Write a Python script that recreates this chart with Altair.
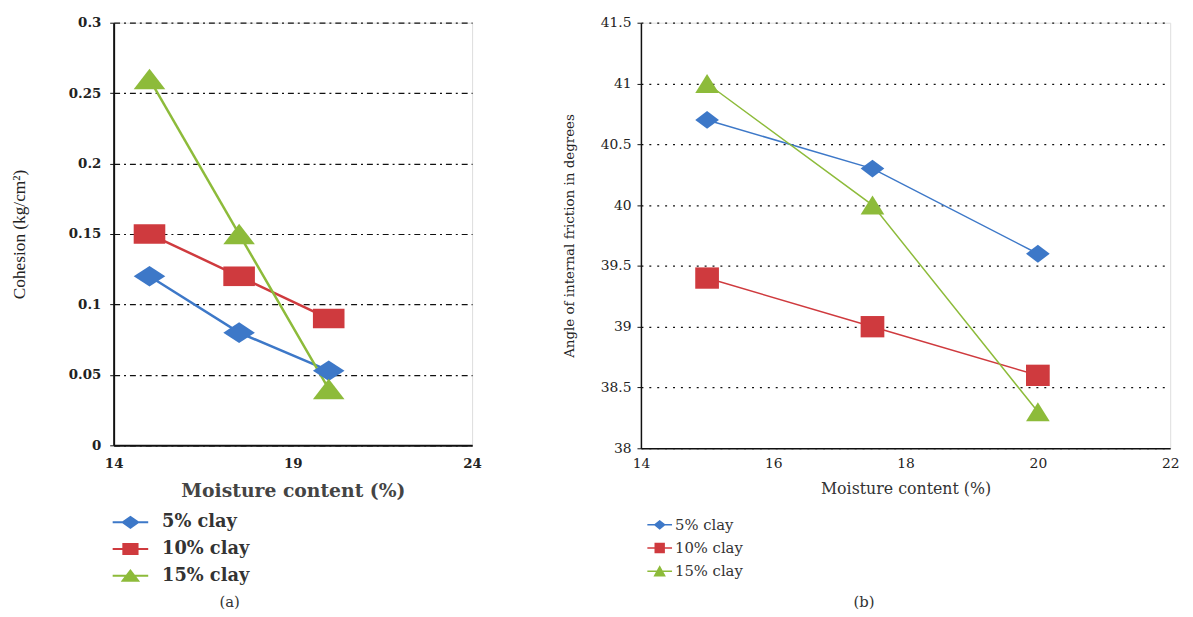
import altair as alt
import pandas as pd

# ---------------- data ----------------
moisture = [15, 17.5, 20]
series_names = ["5% clay", "10% clay", "15% clay"]

cohesion_5 = [0.12, 0.08, 0.053]
cohesion_10 = [0.15, 0.12, 0.09]
cohesion_15 = [0.26, 0.15, 0.04]

friction_5 = [40.7, 40.3, 39.6]
friction_10 = [39.4, 39.0, 38.6]
friction_15 = [41.0, 40.0, 38.3]

cohesion_ticks = [0, 0.05, 0.1, 0.15, 0.2, 0.25, 0.3]
cohesion_x_ticks = [14, 19, 24]
friction_ticks = [38, 38.5, 39, 39.5, 40, 40.5, 41, 41.5]
friction_x_ticks = [14, 16, 18, 20, 22]

colors = ["#3D78C8", "#CF3A3E", "#8DBB3A"]
SERIF = "DejaVu Serif"
TIMES = "Liberation Serif"


def make_df(values):
    rows = []
    for name, vals in zip(series_names, values):
        for x, v in zip(moisture, vals):
            rows.append({"moisture": x, "value": v, "series": name})
    return pd.DataFrame(rows)


df_a = make_df([cohesion_5, cohesion_10, cohesion_15])
df_b = make_df([friction_5, friction_10, friction_15])

# marker shapes (wide, as in the source figure)
marker_a = ["M-1,0L0,-0.65L1,0L0,0.65Z",
            "M-1,-0.62H1V0.62H-1Z",
            "M-1,0.65L0,-0.65L1,0.65Z"]
marker_b = ["M-1,0L0,-0.75L1,0L0,0.75Z",
            "M-1,-0.9H1V0.9H-1Z",
            "M-1,0.8L0,-0.8L1,0.8Z"]

# legend symbols: line with marker in the middle
legend_a = ["M-3,0H3M-1.3,0L0,-0.9L1.3,0L0,0.9Z",
            "M-3,0H3M-1.2,-0.85H1.2V0.85H-1.2Z",
            "M-3,0H3M-1.3,0.85L0,-0.85L1.3,0.85Z"]
legend_b = ["M-2.5,0H2.5M-1,0L0,-0.8L1,0L0,0.8Z",
            "M-2.5,0H2.5M-0.9,-0.9H0.9V0.9H-0.9Z",
            "M-2.5,0H2.5M-1,0.9L0,-0.9L1,0.9Z"]


def panel(df, width, height, xdom, xticks, ydom, yticks, ytitle, markers,
          msize, lsyms, lwidth, grid_dash, caption, cfg):
    xscale = alt.Scale(domain=xdom, nice=False, zero=False)
    yscale = alt.Scale(domain=ydom, nice=False, zero=False)
    xaxis = alt.Axis(values=xticks, grid=False, ticks=False,
                     domainColor="#111", domainWidth=cfg["domw"],
                     labelFont=SERIF, labelFontSize=cfg["lfs"],
                     labelFontWeight=cfg["lfw"], labelColor="#222",
                     labelPadding=cfg["xlp"], labelFlush=False,
                     title="Moisture content (%)", titleFont=SERIF,
                     titleFontSize=cfg["xtfs"], titleFontWeight=cfg["xtfw"],
                     titleColor=cfg["xtcol"], titlePadding=cfg["xtp"])
    yaxis = alt.Axis(values=yticks, format="~g", grid=True, gridColor="#111",
                     gridDash=grid_dash, gridWidth=1.2, ticks=True,
                     tickSize=4, tickColor="#111",
                     domainColor="#111", domainWidth=cfg["domw"],
                     labelFont=SERIF, labelFontSize=cfg["lfs"],
                     labelFontWeight=cfg["lfw"], labelColor="#222",
                     labelPadding=cfg["ylp"],
                     title=ytitle, titleFont=cfg["ytfont"],
                     titleFontSize=cfg["ytfs"],
                     titleFontWeight="normal", titleColor="#222",
                     titlePadding=cfg["ytp"])
    x = alt.X("moisture:Q", scale=xscale, axis=xaxis)
    y = alt.Y("value:Q", scale=yscale, axis=yaxis)
    # colour scale for the drawn marks (domain from data, no legend)
    color = alt.Color("series:N", sort=series_names,
                      scale=alt.Scale(range=colors), legend=None)

    layers = [alt.Chart(df).mark_line(strokeWidth=lwidth).encode(
        x=x, y=y, color=color)]
    for name, path in zip(series_names, markers):
        layers.append(
            alt.Chart(df).transform_filter(alt.datum.series == name)
            .mark_point(filled=True, opacity=1, size=msize, shape=path)
            .encode(x=x, y=y, color=color))

    leg = alt.Legend(title=None, orient="none", legendX=cfg["legx"],
                     legendY=cfg["legy"], direction="vertical",
                     symbolSize=cfg["ssize"], symbolStrokeWidth=cfg["ssw"],
                     symbolOffset=cfg["soff"], labelOffset=cfg["loff"],
                     rowPadding=cfg["rowpad"], labelFont=SERIF,
                     labelFontSize=cfg["legfs"], labelColor="#333",
                     labelFontWeight=cfg["legfw"])
    layers.append(
        alt.Chart(df).transform_filter("false").mark_point(
            filled=True, opacity=1, size=cfg["ssize"],
            strokeWidth=cfg["ssw"]).encode(
            x=x, y=y,
            fill=alt.Fill("series:N",
                          scale=alt.Scale(domain=series_names, range=colors),
                          legend=leg),
            stroke=alt.Stroke("series:N",
                              scale=alt.Scale(domain=series_names, range=colors),
                              legend=leg),
            shape=alt.Shape("series:N",
                            scale=alt.Scale(domain=series_names, range=lsyms),
                            legend=leg)))
    return alt.layer(*layers).properties(
        width=width, height=height,
        title=alt.TitleParams(caption, orient="bottom", anchor="middle",
                              dx=cfg["capdx"], offset=cfg["capoff"],
                              font=SERIF, fontSize=15, fontWeight="normal",
                              color="#333"))


cfg_a = dict(domw=2, lfs=13.5, lfw="bold", xlp=11, xtfs=19, xtfw="bold",
             xtcol="#444", xtp=12,
             ylp=9, ytfont=TIMES, ytfs=17.5, ytp=40, legx=-4, legy=497,
             ssize=144, ssw=2, soff=12, loff=23, rowpad=7, legfs=18,
             legfw="bold", capdx=-64, capoff=10)
cfg_b = dict(domw=1.5, lfs=14, lfw="normal", xlp=8, xtfs=16, xtfw="normal",
             xtcol="#333", xtp=11, ylp=6, ytfont=SERIF, ytfs=13.6, ytp=24,
             legx=4, legy=501, ssize=100, ssw=1.5, soff=7.5, loff=8,
             rowpad=7.5, legfs=15, legfw="normal", capdx=-42, capoff=16)

chart_a = panel(df_a, 363, 428, [14, 24], cohesion_x_ticks, [0, 0.3],
                cohesion_ticks, "Cohesion (kg/cm²)", marker_a, 1024, legend_a,
                2.5, [6, 4, 2, 4], "(a)", cfg_a)
chart_b = panel(df_b, 536, 431, [14, 22], friction_x_ticks, [38, 41.5],
                friction_ticks, "Angle of internal friction in degrees",
                marker_b, 576, legend_b, 1.5, [2, 6], "(b)", cfg_b)

chart = alt.hconcat(chart_a, chart_b, spacing=171, bounds="flush").resolve_scale(
    color="independent", fill="independent", stroke="independent",
    shape="independent"
).resolve_legend(
    color="independent", fill="independent", stroke="independent",
    shape="independent"
).properties(
    padding={"left": 2, "top": 3, "right": 5, "bottom": 5}
).configure_view(stroke=None).configure(background="white")

chart.save("out.html", embed_options={"renderer": "svg", "actions": False})
